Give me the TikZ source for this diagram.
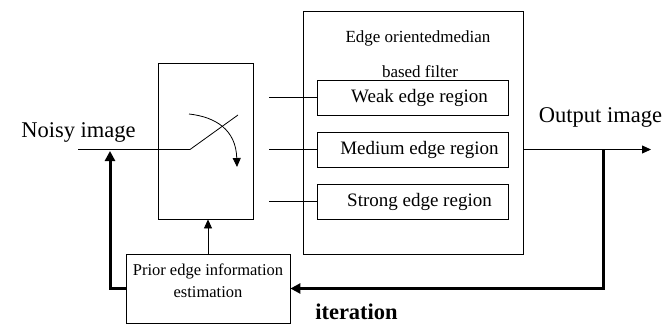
\documentclass[tikz,border=0pt]{standalone}
\usepackage{fontspec}
\setmainfont{Liberation Serif}
\usetikzlibrary{arrows.meta,positioning,calc}

\begin{document}
\begin{tikzpicture}[
  x=1pt,y=-1pt,
  line width=0.8pt,
  box/.style={draw,line width=0.8pt,inner sep=0pt},
  ar/.style={-{Triangle[length=9pt,width=8pt]},line width=0.8pt},
  fb/.style={-{Triangle[length=10pt,width=10pt]},line width=3pt},
  lbl/.style={font=\fontsize{22.5}{26}\selectfont},
  reg/.style={font=\fontsize{19}{22}\selectfont},
  sub/.style={font=\fontsize{17}{20}\selectfont,align=center},
]
\useasboundingbox (0,0) rectangle (665,324);

% ============================================================ switch
\node[box,minimum width=95pt,minimum height=156pt] (sw) at (205.5,141) {};
\coordinate (in)   at (78,149.5);
\coordinate (piv)  at (190,149.5);
\coordinate (tip)  at (238,115);
\draw (in) -- (piv) -- (tip);
% the switching arrow
\coordinate (c0) at (189,114);
\coordinate (c1) at (237,167);
\draw[ar] (c0) .. controls (216,117) and (236,130) .. (c1);
\node[lbl,anchor=base] (noisy) at (78.5,137) {Noisy image};

% ============================================================ filter
\node[box,minimum width=220pt,minimum height=243pt] (flt) at (413,132.5) {};
\node[sub] (ttl1) at (418,38) {Edge orientedmedian};
\node[sub] (ttl2) at (420,72) {based filter};
\foreach \nm/\yy/\txt in {weak/97.5/Weak edge region,
                          med/149.5/Medium edge region,
                          strong/201.5/Strong edge region}{
  \node[box,reg,minimum width=191pt,minimum height=35pt] (\nm) at (412.5,\yy)
    {\hspace*{14pt}\txt};
  \draw (\nm.west) -- ++(-48,0);
}

% ============================================================ output
\coordinate (outend) at (651,149.5);
\draw[ar] (med.east -| flt.east) -- (outend);
\node[lbl,anchor=base] (out) at (600.5,122) {Output image};

% ============================================================ prior edge estimation
\node[box,minimum width=164pt,minimum height=69pt] (pri) at (208,288.5) {};
\node[sub,font=\fontsize{16.5}{22}\selectfont] (pritxt) at (208,281)
  {Prior edge information\\estimation};
\draw[ar] (pri.north) -- (pri.north |- sw.south);

% ---- feedback loop
\coordinate (tap) at (603,149.5);
\coordinate (inj) at (110,151);
\draw[fb] (tap) |- (pri.east);
\draw[fb] (pri.west) -| (inj);
\node[lbl,font=\fontsize{22.5}{26}\selectfont\bfseries,anchor=base] (iter)
  at (356.5,319) {iteration};

\end{tikzpicture}
\end{document}
